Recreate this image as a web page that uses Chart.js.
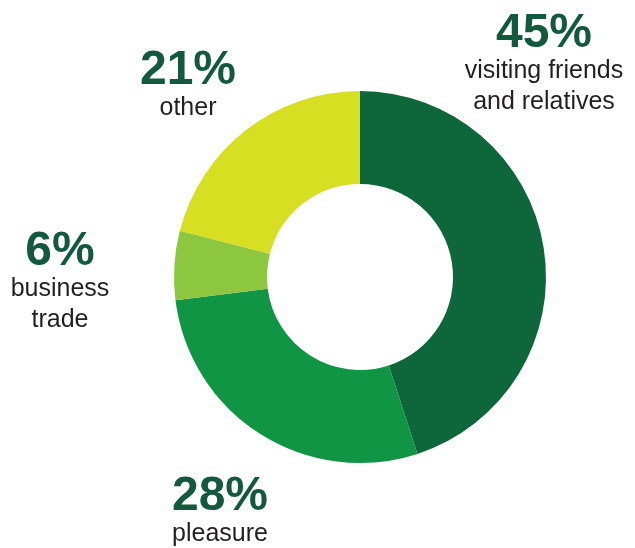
<!DOCTYPE html>
<html>
<head>
<meta charset="utf-8">
<script src="https://cdn.jsdelivr.net/npm/chart.js@4.4.1/dist/chart.umd.min.js"></script>
<style>
  html, body { margin: 0; padding: 0; background: #fff; }
  #trip { display: block; }
</style>
</head>
<body>
<canvas id="trip" width="635" height="548"></canvas>
<script>
const purposes = ['visiting friends\nand relatives', 'pleasure', 'business\ntrade', 'other'];
const shares = [45, 28, 6, 21];
const sliceColors = ['#0e673a', '#109545', '#8dc63f', '#d7df22'];

// where each label block sits (centre x, baseline of the percentage)
const labelSpots = [
  { x: 544, y: 47 },
  { x: 220, y: 510 },
  { x: 60, y: 265 },
  { x: 188, y: 84 },
];

const sliceLabels = {
  id: 'sliceLabels',
  afterDraw(chart) {
    const ctx = chart.ctx;
    ctx.save();
    ctx.textAlign = 'center';
    ctx.textBaseline = 'alphabetic';
    shares.forEach((v, i) => {
      const spot = labelSpots[i];
      ctx.fillStyle = '#12593d';
      ctx.font = 'bold 48px "Liberation Sans", Arial, sans-serif';
      ctx.fillText(v + '%', spot.x, spot.y);
      ctx.fillStyle = '#231f20';
      ctx.font = '25px "Liberation Sans", Arial, sans-serif';
      purposes[i].split('\n').forEach((line, j) => {
        ctx.fillText(line, spot.x, spot.y + 31 + j * 31);
      });
    });
    ctx.restore();
  },
};

const trip_ctx = document.getElementById('trip').getContext('2d');
new Chart(trip_ctx, {
  type: 'doughnut',
  data: {
    labels: purposes,
    datasets: [{
      data: shares,
      backgroundColor: sliceColors,
      borderWidth: 0,
    }],
  },
  options: {
    responsive: false,
    animation: false,
    cutout: '50%',
    layout: {
      padding: { left: 174, right: 89, top: 91, bottom: 85 },
    },
    plugins: {
      legend: { display: false },
      tooltip: { enabled: false },
    },
  },
  plugins: [sliceLabels],
});
</script>
</body>
</html>
